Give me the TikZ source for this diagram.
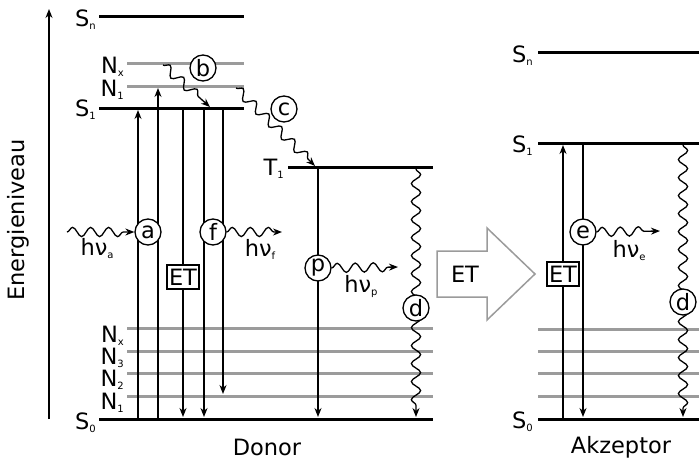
\documentclass[tikz,border=0pt]{standalone}
\usepackage{fontspec}
\setmainfont{DejaVu Sans}
\usetikzlibrary{arrows.meta,decorations.pathmorphing}
\definecolor{lgray}{RGB}{155,155,155}
\newcommand{\sublab}[2]{#1\raisebox{-3pt}{\fontsize{10}{10}\selectfont #2}}
\begin{document}
\begin{tikzpicture}[x=1pt,y=-1pt,
  every node/.style={font=\fontsize{22.5}{22.5}\selectfont, inner sep=0pt},
  lvl/.style={line width=3pt},
  glvl/.style={line width=3pt, draw=lgray},
  tr/.style={line width=1.3pt, -{Stealth[length=9pt,width=7pt]}},
  circ/.style={circle, draw, line width=1.3pt, fill=white, minimum size=26pt},
  etbox/.style={draw, line width=1.3pt, fill=white, minimum width=32pt, minimum height=24pt},
  wave/.style={line width=1.3pt, decorate, decoration={snake, amplitude=4.6pt, segment length=18pt, post length=8pt}, -{Stealth[length=9pt,width=7pt]}},
  lab/.style={anchor=east, text height=16pt, text depth=3pt}]
\useasboundingbox (0,0) rectangle (699,461);

% axis
\coordinate (axB) at (49,419);
\coordinate (axT) at (49,9);
\draw[tr] (axB) -- (axT);
\node[rotate=90] (energ) at (18,220) {Energieniveau};

% donor levels
\draw[lvl] (99,16) -- (244,16);
\draw[glvl] (127,63) -- (244,63);
\draw[glvl] (127,86) -- (244,86);
\draw[lvl] (99,108) -- (244,108);
\draw[lvl] (288,167) -- (433,167);
\draw[glvl] (127,328) -- (433,328);
\draw[glvl] (127,351) -- (433,351);
\draw[glvl] (127,373) -- (433,373);
\draw[glvl] (127,396) -- (433,396);
\draw[lvl] (99,419) -- (433,419);

% donor level labels
\node[lab] (dSn) at (96,20) {\sublab{S}{n}};
\node[lab] (dNx) at (124,67) {\sublab{N}{x}};
\node[lab] (dN1) at (124,90) {\sublab{N}{1}};
\node[lab] (dS1) at (96,110) {\sublab{S}{1}};
\node[lab] (dT1) at (284,169) {\sublab{T}{1}};
\node[lab] (lNx) at (124,336) {\sublab{N}{x}};
\node[lab] (lN3) at (124,358) {\sublab{N}{3}};
\node[lab] (lN2) at (124,380) {\sublab{N}{2}};
\node[lab] (lN1) at (124,403) {\sublab{N}{1}};
\node[lab] (dS0) at (96,423) {\sublab{S}{0}};

% donor vertical transitions
\coordinate (v1b) at (138,418); \coordinate (v1t) at (138,110);
\coordinate (v2b) at (158,418); \coordinate (v2t) at (158,88);
\coordinate (v3t) at (183,110); \coordinate (v3b) at (183,417);
\coordinate (v4t) at (204,110); \coordinate (v4b) at (204,417);
\coordinate (v5t) at (223,110); \coordinate (v5b) at (223,394);
\coordinate (v6t) at (318,169); \coordinate (v6b) at (318,417);
\coordinate (w1t) at (416,169); \coordinate (w1b) at (416,417);
\draw[tr] (v1b) -- (v1t);
\draw[tr] (v2b) -- (v2t);
\draw[tr] (v3t) -- (v3b);
\draw[tr] (v4t) -- (v4b);
\draw[tr] (v5t) -- (v5b);
\draw[tr] (v6t) -- (v6b);
\draw[wave] (w1t) -- (w1b);

% acceptor levels
\draw[lvl] (538,52) -- (699,52);
\draw[lvl] (538,143) -- (699,143);
\draw[glvl] (538,329) -- (699,329);
\draw[glvl] (538,351) -- (699,351);
\draw[glvl] (538,373) -- (699,373);
\draw[glvl] (538,396) -- (699,396);
\draw[lvl] (538,419) -- (699,419);
\node[lab] (aSn) at (533,56) {\sublab{S}{n}};
\node[lab] (aS1) at (533,146) {\sublab{S}{1}};
\node[lab] (aS0) at (533,422) {\sublab{S}{0}};

\coordinate (u1b) at (563,418); \coordinate (u1t) at (563,145);
\coordinate (u2t) at (583,145); \coordinate (u2b) at (583,417);
\coordinate (w2t) at (683,145); \coordinate (w2b) at (683,417);
\draw[tr] (u1b) -- (u1t);
\draw[tr] (u2t) -- (u2b);
\draw[wave] (w2t) -- (w2b);

% circles and boxes
\node[circ] (ca) at (148,232) {a};
\node[circ] (cb) at (203,68) {b};
\node[circ] (cc) at (284,109) {c};
\node[circ] (cf) at (213,232) {f};
\node[circ] (cp) at (318,268) {p};
\node[circ] (cd) at (416,308) {d};
\node[circ] (ce) at (583,232) {e};
\node[circ] (cd2) at (683,302) {d};
\node[etbox] (et1) at (183,277) {ET};
\node[etbox] (et2) at (563,274) {ET};

% photon waves
\coordinate (hain) at (67,232);
\coordinate (hfout) at (282,232);
\coordinate (hpout) at (398,267);
\coordinate (heout) at (660,231);
\coordinate (bs) at (163,65);
\coordinate (be) at (210,107);
\coordinate (cs) at (236,88);
\coordinate (ce2) at (315,166);
\draw[wave] (hain) -- (ca.west);
\draw[wave] (cf.east) -- (hfout);
\draw[wave] (cp.east) -- (hpout);
\draw[wave] (ce.east) -- (heout);
\draw[wave] (bs) -- (be);
\draw[wave] (cs) -- (ce2);

\node (hva) at (97,249) {h\sublab{ν}{a}};
\node (hvf) at (260,249) {h\sublab{ν}{f}};
\node (hvp) at (361,286) {h\sublab{ν}{p}};
\node (hve) at (629,251) {h\sublab{ν}{e}};

% big ET arrow
\draw[draw=lgray, line width=1.5pt, fill=white] (437,251) -- (487,251) -- (487,228) -- (535,274) -- (487,320) -- (487,297) -- (437,297) -- cycle;
\node (etbig) at (465,274) {ET};

\node (donor) at (267,447) {Donor};
\node (akz) at (621,447) {Akzeptor};
\end{tikzpicture}
\end{document}
